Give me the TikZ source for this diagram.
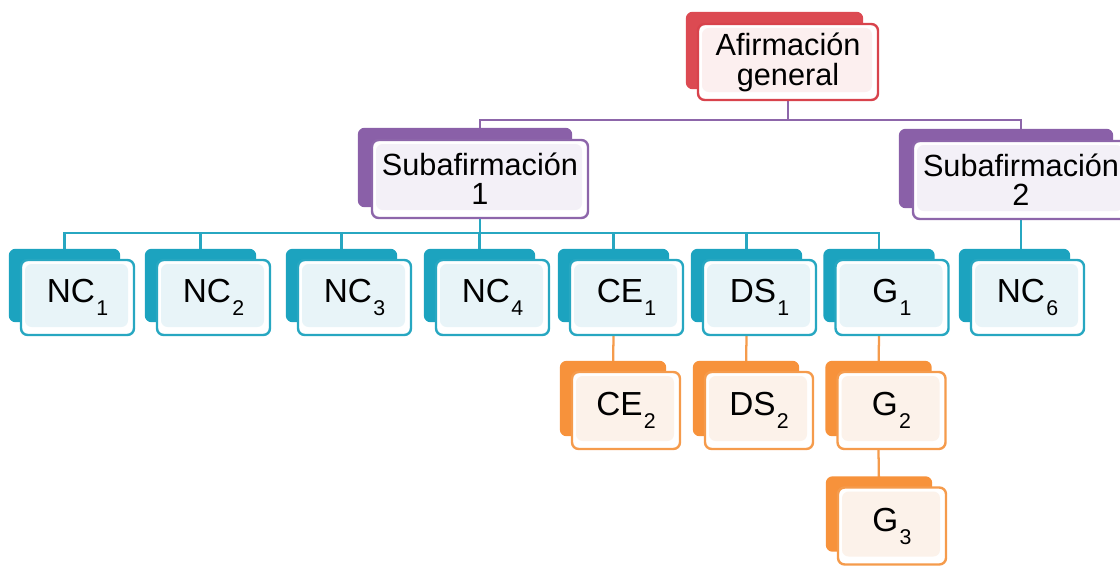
\documentclass[tikz,border=0pt]{standalone}
\usepackage{fontspec}
\setmainfont{Liberation Sans}
\usetikzlibrary{backgrounds}

\definecolor{redtab}{HTML}{DC4A52}
\definecolor{redline}{HTML}{D8434C}
\definecolor{redfill}{HTML}{FCEFEF}
\definecolor{purpletab}{HTML}{8A60A8}
\definecolor{purpleline}{HTML}{8D66AA}
\definecolor{purplefill}{HTML}{F3F0F7}
\definecolor{cyantab}{HTML}{1CA3BF}
\definecolor{cyanline}{HTML}{27A7C1}
\definecolor{cyanfill}{HTML}{E8F4F8}
\definecolor{orangetab}{HTML}{F7923B}
\definecolor{orangeline}{HTML}{F59B4C}
\definecolor{orangefill}{HTML}{FCF2EA}

% lowered index, as in NC_1
\newcommand{\lowidx}[1]{\kern1pt\raisebox{-9.75pt}{\fontsize{16}{16}\selectfont #1}}

\tikzset{
    card/.style={
        rectangle, rounded corners=5pt, line width=1.8pt,
        fill=white, inner sep=0pt, align=center,
        font=\fontsize{25}{25}\selectfont,
        path picture={\fill[#1] ([shift={(4,4)}]path picture bounding box.north west)
            rectangle ([shift={(-6,-8)}]path picture bounding box.south east);}
    },
    topcard/.style={card=redfill, draw=redline,
        minimum width=135pt, minimum height=57pt,
        font=\fontsize{23}{22.5}\selectfont},
    subcard/.style={card=purplefill, draw=purpleline,
        minimum width=162pt, minimum height=58.5pt,
        font=\fontsize{23}{22}\selectfont},
    leafcard/.style={card=cyanfill, draw=cyanline,
        minimum width=84.75pt, minimum height=56.25pt},
    extracard/.style={card=orangefill, draw=orangeline,
        minimum width=81pt, minimum height=57.75pt},
    link/.style={line width=1.7pt}
}

\begin{document}
\begin{tikzpicture}[x=0.75pt, y=-0.75pt]
    \useasboundingbox (0,0) rectangle (1120,567);
    % Top level
    \node[topcard] (top) at (788,62) {Afirmación\\general};
    % Sub claims
    \node[subcard] (sub1) at (480,179) {Subafirmación\\1};
    \node[subcard] (sub2) at (1021,180) {Subafirmación\\2};
    % Third level
    \foreach \name/\x/\lab in {NC1/77.5/NC\lowidx{1}, NC2/213.5/NC\lowidx{2},
            NC3/354.5/NC\lowidx{3}, NC4/492.5/NC\lowidx{4}, CE1/626.5/CE\lowidx{1},
            DS1/759.5/DS\lowidx{1}, G1/892/G\lowidx{1}, NC6/1027.5/NC\lowidx{6}} {
        \node[leafcard] (\name) at (\x,297.5) {\lab};
    }
    % Fourth level
    \foreach \name/\x/\lab in {CE2/626/CE\lowidx{2}, DS2/759/DS\lowidx{2},
            G2/891.5/G\lowidx{2}} {
        \node[extracard] (\name) at (\x,410.5) {\lab};
    }
    \node[extracard] (G3) at (892,526) {G\lowidx{3}};

    \begin{scope}[on background layer]
        % Connect top to sub claims
        \foreach \j in {sub1,sub2} {
            \draw[link, purpleline] (top.south) -- ++(0,19) -| (\j.north);
        }
        % Connect sub claim 1 to its children
        \foreach \j in {NC1,NC2,NC3,NC4,CE1,DS1,G1} {
            \draw[link, cyanline] (sub1.south) -- ++(0,14) -| ([shift={(-13,0)}]\j.north);
        }
        % Connect sub claim 2
        \draw[link, cyanline] (sub2.south) -- (sub2.south |- NC6.north);
        % Chains
        \foreach \i/\j in {CE1/CE2, DS1/DS2, G1/G2, G2/G3} {
            \draw[link, orangeline] ([shift={(-13,0)}]\i.south) -- ([shift={(-13,0)}]\j.north);
        }
        % Tabs behind the cards
        \fill[redtab, rounded corners=5pt] ([shift={(-11,-11)}]top.north west)
            rectangle ([shift={(-16,-12)}]top.south east);
        \foreach \n in {sub1,sub2} {
            \fill[purpletab, rounded corners=5pt] ([shift={(-13,-11)}]\n.north west)
                rectangle ([shift={(-17,-12)}]\n.south east);
        }
        \foreach \n in {NC1,NC2,NC3,NC4,CE1,DS1,G1,NC6} {
            \fill[cyantab, rounded corners=5pt] ([shift={(-11,-10)}]\n.north west)
                rectangle ([shift={(-15,-14)}]\n.south east);
        }
        \foreach \n in {CE2,DS2,G2,G3} {
            \fill[orangetab, rounded corners=5pt] ([shift={(-11,-10)}]\n.north west)
                rectangle ([shift={(-15,-14)}]\n.south east);
        }
    \end{scope}
\end{tikzpicture}
\end{document}
